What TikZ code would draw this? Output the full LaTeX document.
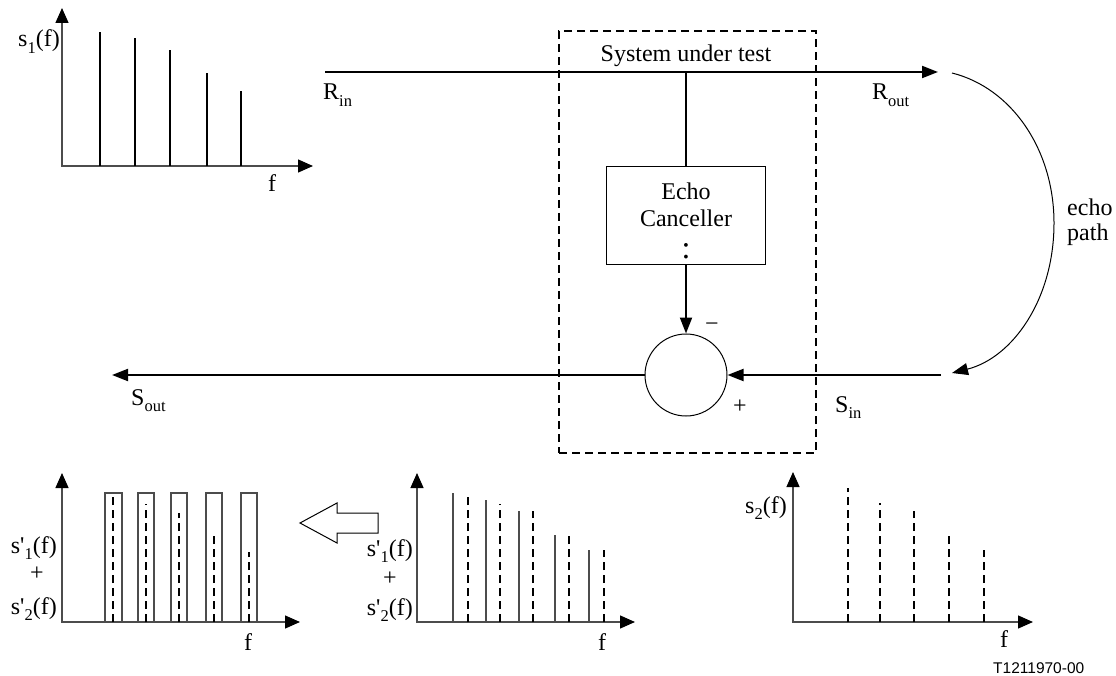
\documentclass[tikz,border=0pt]{standalone}
\usepackage{fontspec}
\setmainfont{Liberation Serif}[Ligatures=TeXOff]
\newfontfamily\labelsans{Liberation Sans}
\usetikzlibrary{arrows.meta}
\newcommand\lowsub[1]{\raisebox{-6.5pt}{\fontsize{16.5}{17}\selectfont #1}}
\begin{document}
\begin{tikzpicture}[x=1pt,y=-1pt,font=\fontsize{24}{25}\selectfont,
  sig/.style={line width=2pt,draw=black},
  tipped/.style={-{Triangle[length=16pt,width=12pt]}},
  axis/.style={line width=1.3pt,draw=black!70,
    {Triangle[length=15pt,width=13pt,color=black]}-{Triangle[length=15pt,width=13pt,color=black]}},
  bar/.style={line width=2pt,draw=black},
  thinbar/.style={line width=1.2pt,draw=black!70},
  dashbar/.style={line width=2pt,draw=black,dash pattern=on 8pt off 5pt},
  lbl/.style={inner sep=0pt,anchor=base},
  rlbl/.style={inner sep=0pt,anchor=base east},
  llbl/.style={inner sep=0pt,anchor=base west}]
\useasboundingbox (0,0) rectangle (1116,676);

% ---------- system under test ----------
\node[draw,line width=1.8pt,dash pattern=on 8pt off 5pt,minimum width=257pt,minimum height=422pt,inner sep=0pt] (sut) at (687.5,242) {};
\node[lbl] (sutlbl) at (686,62) {System under test};

\coordinate (rin) at (325,72);
\coordinate (rout) at (938,72);
\coordinate (tap) at (686,72);
\coordinate (sin) at (941,375);
\coordinate (sout) at (112,375);
\coordinate (ep1) at (952,73);
\coordinate (ep2) at (952,373);

\node[draw,line width=1pt,minimum width=159pt,minimum height=98pt,inner sep=0pt] (ec) at (686,216) {};
\node[lbl] (ectxt1) at (686,200) {Echo};
\node[lbl] (ectxt2) at (686,227) {Canceller};
\node[lbl,font=\fontsize{32}{32}\selectfont] (ectxt3) at (686,259) {:};

\node[draw,circle,line width=1pt,minimum size=82pt,inner sep=0pt] (sum) at (686,375) {};

\draw[sig,tipped] (rin) -- (rout);
\draw[sig] (tap) -- (ec.north);
\draw[sig,tipped] (ec.south) -- (sum.north);
\draw[sig,tipped] (sin) -- (sum.east);
\draw[sig,tipped] (sum.west) -- (sout);
\draw[line width=1pt,tipped] (ep1) .. controls (1012,88) and (1054,150) .. (1054,223)
   .. controls (1054,300) and (1012,358) .. (ep2);

\node[lbl] (minus) at (712,331) {−};
\node[lbl] (plus) at (740,413) {+};

\node[llbl] (rinlbl) at (323,100) {R\lowsub{in}};
\node[llbl] (routlbl) at (872,100) {R\lowsub{out}};
\node[llbl] (sinlbl) at (835,412) {S\lowsub{in}};
\node[llbl] (soutlbl) at (131,405) {S\lowsub{out}};
\node[llbl] (echo1) at (1067,216) {echo};
\node[llbl] (echo2) at (1067,241) {path};

% ---------- chart s1 ----------
\draw[axis] (62,8) -- (62,166) -- (313,166);
\foreach \x/\t in {100/32,135/38,170/50,207/73,241/91}
  \draw[bar] (\x,166) -- (\x,\t);
\node[rlbl] (s1lbl) at (60,47) {s\lowsub{1}(f)};
\node[lbl] (f1) at (272,192) {f};

% ---------- chart left bottom ----------
\draw[axis] (62,473) -- (62,622) -- (300,622);
\foreach \a/\b in {105/122,138/154,171/187,206/222,241/257}
  \draw[thinbar] (\a,622) rectangle (\b,493);
\foreach \x/\t in {113/496,146/504,179/513,214/536,249/552}
  \draw[dashbar] (\x,622) -- (\x,\t);
\node[rlbl] (la1) at (57,553) {s'\lowsub{1}(f)};
\node[lbl] (la2) at (37,580) {+};
\node[rlbl] (la3) at (57,614) {s'\lowsub{2}(f)};
\node[lbl] (f2) at (248,650) {f};

% ---------- hollow arrow ----------
\draw[line width=1pt,fill=white] (300,523) -- (337,503) -- (337,513) -- (378,513)
  -- (378,533) -- (337,533) -- (337,543) -- cycle;

% ---------- chart middle ----------
\draw[axis] (417,473) -- (417,622) -- (635,622);
\foreach \x/\t in {453/493,486/500,519/511,555/535,589/550}
  \draw[thinbar] (\x,622) -- (\x,\t);
\foreach \x/\t in {468/493,500/504,533/511,569/535,604/550}
  \draw[dashbar] (\x,622) -- (\x,\t);
\node[rlbl] (ma1) at (413,556) {s'\lowsub{1}(f)};
\node[lbl] (ma2) at (390,585) {+};
\node[rlbl] (ma3) at (413,615) {s'\lowsub{2}(f)};
\node[lbl] (f3) at (602,650) {f};

% ---------- chart s2 ----------
\draw[axis] (793,472) -- (793,622) -- (1033,622);
\foreach \x/\t in {848/488,880/503,914/511,949/535,984/550}
  \draw[dashbar] (\x,622) -- (\x,\t);
\node[rlbl] (s2lbl) at (787,513) {s\lowsub{2}(f)};
\node[lbl] (f4) at (1004,647) {f};

\node[llbl,font=\labelsans\fontsize{15.5}{16}\selectfont] (tag) at (993,673) {T1211970-00};
\end{tikzpicture}
\end{document}
